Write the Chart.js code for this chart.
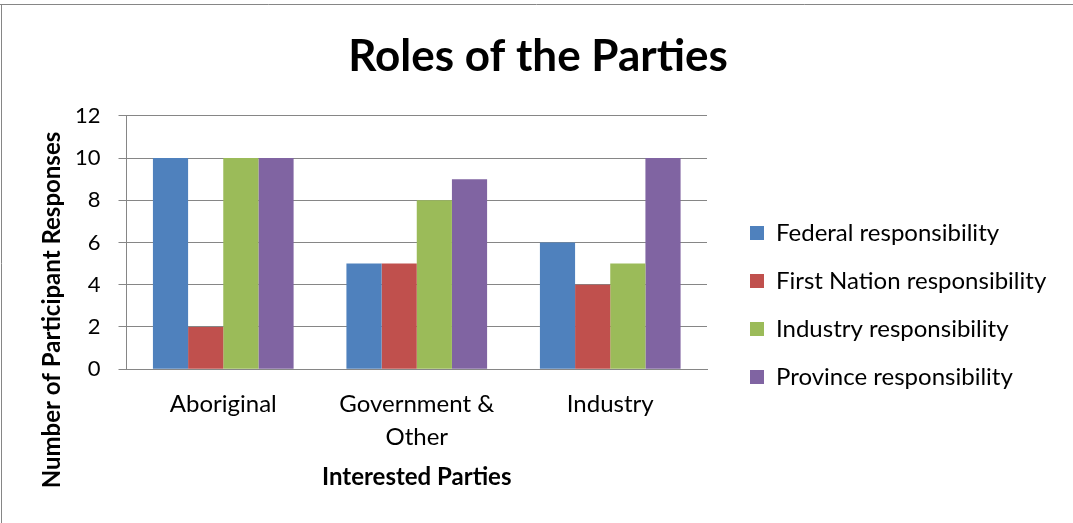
<!DOCTYPE html>
<html>
<head>
<meta charset="utf-8">
<title>Roles of the Parties</title>
<script src="https://cdn.jsdelivr.net/npm/chart.js@4.4.1/dist/chart.umd.min.js"></script>
<style>
  html, body { margin: 0; padding: 0; background: #fff; }
  #wrap { width: 1073px; height: 523px; position: relative; }
</style>
</head>
<body>
<div id="wrap"><canvas id="chart"></canvas></div>
<script>
// categories and counts per responsibility
const parties = [['Aboriginal'], ['Government &', 'Other'], ['Industry']];
const federal = [10, 5, 6];
const firstNation = [2, 5, 4];
const industry = [10, 8, 5];
const province = [10, 9, 10];
const yTicks = [0, 2, 4, 6, 8, 10, 12];

const yTitle = 'Number of Participant Responses';
const gray = '#868686';

Chart.defaults.font.family = 'Lato';
Chart.defaults.color = '#000';

// white background plus the thin frame on the top and left edges
const frame = {
  id: 'frame',
  beforeDraw(chart) {
    const { ctx, width, height } = chart;
    ctx.save();
    ctx.fillStyle = '#fff';
    ctx.fillRect(0, 0, width, height);
    ctx.strokeStyle = gray;
    ctx.lineWidth = 1;
    ctx.beginPath();
    ctx.moveTo(0, 4.5);
    ctx.lineTo(width, 4.5);
    ctx.moveTo(1.5, 4);
    ctx.lineTo(1.5, height);
    ctx.stroke();
    ctx.restore();
  }
};

// the rotated y title sits lower than the plot centre, so it is drawn here
const yTitlePlugin = {
  id: 'yTitle',
  afterDraw(chart) {
    const { ctx } = chart;
    ctx.save();
    ctx.translate(60, 310);
    ctx.rotate(-Math.PI / 2);
    ctx.font = 'bold 24px Lato';
    ctx.fillStyle = '#000';
    ctx.textAlign = 'center';
    ctx.textBaseline = 'alphabetic';
    ctx.fillText(yTitle, 0, 0);
    ctx.restore();
  }
};

// move the legend block next to the plot; let it run to the canvas edge
const legendPlace = {
  id: 'legendPlace',
  afterLayout(chart) {
    const lg = chart.legend;
    const pad = lg.options.labels.padding;
    lg.left = 750 - pad;
    lg.right = chart.width;
    lg.top = 221 - pad;
    lg.bottom = lg.top + lg.height;
  }
};

const ctx = document.getElementById('chart').getContext('2d');
new Chart(ctx, {
  type: 'bar',
  data: {
    labels: parties,
    datasets: [
      { label: 'Federal responsibility', data: federal, backgroundColor: '#4F81BD' },
      { label: 'First Nation responsibility', data: firstNation, backgroundColor: '#C0504D' },
      { label: 'Industry responsibility', data: industry, backgroundColor: '#9BBB59' },
      { label: 'Province responsibility', data: province, backgroundColor: '#8064A2' }
    ]
  },
  options: {
    responsive: true,
    maintainAspectRatio: false,
    animation: false,
    devicePixelRatio: 1,
    layout: { padding: { left: 57, right: 54, top: 0, bottom: 0 } },
    datasets: {
      bar: { categoryPercentage: 0.727, barPercentage: 1 }
    },
    plugins: {
      title: {
        display: true,
        text: 'Roles of the Parties',
        font: { size: 44, weight: 'bold', lineHeight: 1.2 },
        color: '#000',
        padding: { top: 30, bottom: 33 }
      },
      legend: {
        position: 'right',
        align: 'start',
        maxWidth: 312,
        labels: {
          boxWidth: 14,
          boxHeight: 14,
          padding: 24,
          font: { size: 24 },
          color: '#000'
        }
      },
      tooltip: { enabled: false }
    },
    scales: {
      x: {
        grid: { display: false, drawTicks: false },
        border: { color: gray },
        ticks: { padding: 19, font: { size: 24, lineHeight: 33 / 24 }, color: '#000', maxRotation: 0 },
        title: {
          display: true,
          text: 'Interested Parties',
          font: { size: 24, weight: 'bold', lineHeight: 1.2 },
          color: '#000',
          padding: { top: -10, bottom: 31 }
        }
      },
      y: {
        min: yTicks[0],
        max: yTicks[yTicks.length - 1],
        afterBuildTicks(scale) {
          scale.ticks = yTicks.map(v => ({ value: v }));
        },
        grid: { color: gray, tickLength: 8, lineWidth: 1 },
        border: { color: gray },
        ticks: { padding: 18, font: { size: 22 }, color: '#000' }
      }
    }
  },
  plugins: [frame, yTitlePlugin, legendPlace]
});
</script>
</body>
</html>
